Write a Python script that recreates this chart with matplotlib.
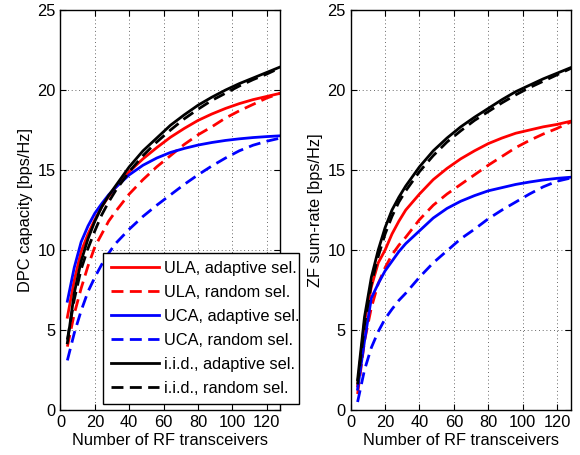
import numpy as np
import matplotlib
matplotlib.use("Agg")
import matplotlib.pyplot as plt

plt.rcParams['font.family'] = ['Liberation Sans', 'DejaVu Sans']

# number of RF transceivers
n_rf = [4, 8, 12, 16, 20, 24, 28, 32, 40, 48, 56, 64, 72, 80, 88, 96, 104, 112, 120, 128]

# DPC capacity [bps/Hz]
dpc_ula_adapt = [5.8, 8.1, 9.9, 11.0, 11.9, 12.7, 13.35, 13.9, 14.9, 15.7, 16.4, 17.05, 17.6, 18.1, 18.5, 18.85, 19.15, 19.4, 19.6, 19.8]
dpc_ula_rand = [3.96, 6.0, 7.6, 9.0, 10.2, 11.0, 11.8, 12.4, 13.5, 14.4, 15.2, 15.9, 16.6, 17.2, 17.7, 18.25, 18.7, 19.1, 19.5, 19.8]
dpc_uca_adapt = [6.8, 8.9, 10.5, 11.5, 12.3, 12.9, 13.45, 13.9, 14.7, 15.3, 15.75, 16.1, 16.35, 16.56, 16.72, 16.85, 16.95, 17.03, 17.09, 17.14]
dpc_uca_rand = [3.1, 4.8, 6.2, 7.4, 8.3, 9.1, 9.8, 10.4, 11.3, 12.1, 12.8, 13.45, 14.1, 14.7, 15.25, 15.75, 16.2, 16.55, 16.8, 17.0]
dpc_iid_adapt = [4.2, 7.3, 9.3, 10.7, 11.8, 12.7, 13.4, 14.0, 15.2, 16.2, 17.0, 17.8, 18.45, 19.05, 19.55, 20.0, 20.4, 20.75, 21.1, 21.45]
dpc_iid_rand = [4.4, 6.9, 8.8, 10.1, 11.2, 12.2, 13.0, 13.7, 14.9, 15.9, 16.75, 17.5, 18.2, 18.8, 19.35, 19.8, 20.25, 20.65, 21.0, 21.4]

# ZF sum-rate [bps/Hz]
zf_ula_adapt = [1.5, 5.5, 7.7, 9.2, 10.0, 11.0, 11.8, 12.5, 13.5, 14.4, 15.1, 15.7, 16.2, 16.65, 17.0, 17.3, 17.5, 17.7, 17.85, 18.05]
zf_ula_rand = [1.0, 4.3, 6.4, 7.9, 8.9, 9.7, 10.3, 10.8, 11.9, 12.8, 13.5, 14.1, 14.7, 15.3, 15.85, 16.4, 16.85, 17.25, 17.6, 18.0]
zf_uca_adapt = [1.3, 4.3, 7.0, 7.9, 8.7, 9.3, 9.9, 10.4, 11.2, 12.0, 12.6, 13.05, 13.4, 13.7, 13.9, 14.1, 14.25, 14.38, 14.48, 14.55]
zf_uca_rand = [0.5, 2.5, 3.9, 4.9, 5.7, 6.3, 6.85, 7.3, 8.3, 9.2, 9.95, 10.7, 11.3, 11.95, 12.5, 13.0, 13.5, 13.95, 14.3, 14.5]
zf_iid_adapt = [1.9, 5.8, 8.3, 10.0, 11.4, 12.5, 13.3, 14.0, 15.2, 16.2, 17.0, 17.7, 18.3, 18.85, 19.4, 19.9, 20.3, 20.7, 21.05, 21.4]
zf_iid_rand = [1.6, 5.3, 7.9, 9.6, 11.0, 12.1, 13.0, 13.7, 14.9, 15.9, 16.75, 17.45, 18.1, 18.65, 19.2, 19.7, 20.15, 20.55, 20.95, 21.35]

labels = ['ULA, adaptive sel.', 'ULA, random sel.', 'UCA, adaptive sel.',
          'UCA, random sel.', 'i.i.d., adaptive sel.', 'i.i.d., random sel.']
colors = ['#ff0000', '#ff0000', '#0000ff', '#0000ff', '#000000', '#000000']
dashed = [False, True, False, True, False, True]

fig = plt.figure(figsize=(5.8, 4.55), dpi=100)
ax1 = fig.add_axes([0.1043, 0.0989, 0.3793, 0.879])
ax2 = fig.add_axes([0.6047, 0.0989, 0.3793, 0.879])

left_series = [dpc_ula_adapt, dpc_ula_rand, dpc_uca_adapt, dpc_uca_rand, dpc_iid_adapt, dpc_iid_rand]
right_series = [zf_ula_adapt, zf_ula_rand, zf_uca_adapt, zf_uca_rand, zf_iid_adapt, zf_iid_rand]

fs = 11.8
for ax, series, ylab in [(ax1, left_series, 'DPC capacity [bps/Hz]'),
                         (ax2, right_series, 'ZF sum-rate [bps/Hz]')]:
    for y, c, d, lab in zip(series, colors, dashed, labels):
        line, = ax.plot(n_rf, y, color=c, lw=2, label=lab)
        if d:
            line.set_dashes((4.3, 2.3))
    ax.set_xlim(0, 128)
    ax.set_ylim(0, 25)
    ax.set_xticks(np.arange(0, 121, 20))
    ax.set_yticks(np.arange(0, 26, 5))
    ax.grid(True, linestyle=(0, (1, 3.5)), color='black', lw=0.6, alpha=0.8)
    ax.tick_params(direction='in', top=True, right=True, labelsize=fs, length=4)
    ax.set_xlabel('Number of RF transceivers', fontsize=fs, labelpad=2)
    ax.set_ylabel(ylab, fontsize=fs, labelpad=3)
    for s in ax.spines.values():
        s.set_linewidth(1.0)

leg = ax1.legend(loc='lower left', bbox_to_anchor=(0.193, 0.015, 0.891, 0.383),
                 mode='expand', fontsize=fs, handlelength=2.9, fancybox=False,
                 framealpha=1, edgecolor='black', borderaxespad=0, borderpad=0.5,
                 labelspacing=0.55, handletextpad=0.3)
leg.get_frame().set_linewidth(1.0)
leg.set_zorder(5)

fig.savefig('out.png', dpi=100)
